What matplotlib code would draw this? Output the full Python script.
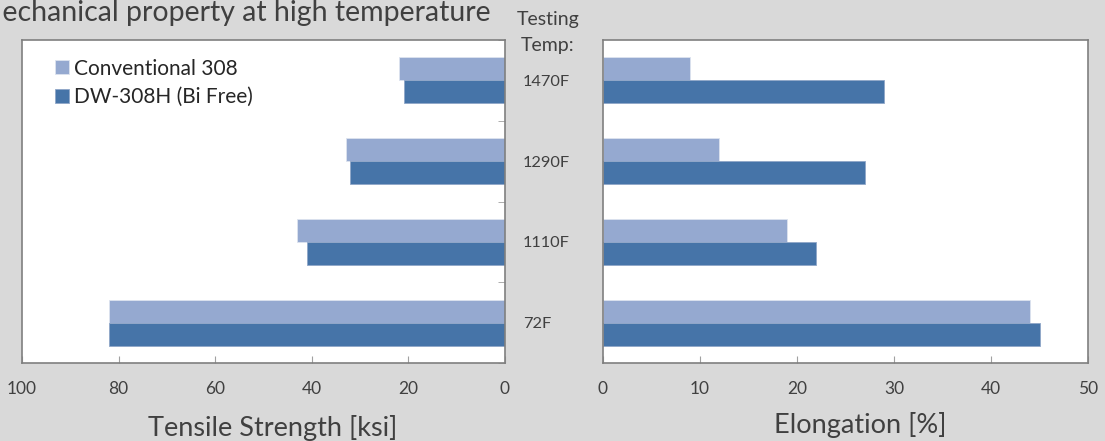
import numpy as np
import matplotlib.pyplot as plt

plt.rcParams['font.family'] = ['Lato', 'DejaVu Sans']

# data
temps = ['72F', '1110F', '1290F', '1470F']
series_names = ['Conventional 308', 'DW-308H (Bi Free)']
tensile_conv = [82, 43, 33, 22]
tensile_dw = [82, 41, 32, 21]
elong_conv = [44, 19, 12, 9]
elong_dw = [45, 22, 27, 29]

c_light = '#95a9d0'
c_dark = '#4674a8'
spine_c = '#7f7f7f'
txt_c = '#404040'

fig = plt.figure(figsize=(11.05, 4.41), dpi=100)
fig.patch.set_facecolor('#d9d9d9')

ax1 = fig.add_axes([22/1105, 1-363/441, 483/1105, 323/441])
ax2 = fig.add_axes([603/1105, 1-363/441, 485/1105, 323/441])

y = np.arange(len(temps))
h = 0.285
for ax, conv, dw in [(ax1, tensile_conv, tensile_dw), (ax2, elong_conv, elong_dw)]:
    ax.barh(y + h/2, conv, height=h, color=c_light, edgecolor='#dde3ef', linewidth=0.6, label=series_names[0])
    ax.barh(y - h/2, dw, height=h, color=c_dark, edgecolor='#8fa6c8', linewidth=0.6, label=series_names[1])
    ax.set_ylim(-0.5, len(temps) - 0.5)
    ax.set_facecolor('white')
    for s in ax.spines.values():
        s.set_color(spine_c)
        s.set_linewidth(1.2)
    ax.tick_params(axis='x', direction='in', length=5, color='#a0a0a0', labelsize=12.5,
                   labelcolor=txt_c, pad=13)
    ax.set_yticks(np.arange(len(temps) + 1) - 0.5, minor=True)

ax1.set_xlim(100, 0)
ax1.set_xticks([100, 80, 60, 40, 20, 0])
ax1.yaxis.tick_right()
ax1.set_yticks(y)
ax1.set_yticklabels(temps)
ax1.tick_params(axis='y', which='major', length=0, pad=13, labelsize=11.8, labelcolor=txt_c)
ax1.tick_params(axis='y', which='minor', direction='in', length=5, color='#a0a0a0')
ax1.set_xlabel('Tensile Strength [ksi]', fontsize=19.5, color=txt_c, labelpad=13)
ax1.xaxis.label.set_x(0.52)

ax2.set_xlim(0, 50)
ax2.set_xticks([0, 10, 20, 30, 40, 50])
ax2.set_yticks([])
ax2.set_yticks(np.arange(len(temps) + 1) - 0.5, minor=True)
ax2.tick_params(axis='y', which='minor', length=0)
ax2.set_xlabel('Elongation [%]', fontsize=19.5, color=txt_c, labelpad=11)
ax2.xaxis.label.set_x(0.53)

handles, labels = ax1.get_legend_handles_labels()
leg = ax1.legend(handles, labels, loc='upper left', frameon=False, fontsize=15,
                 handlelength=0.65, handleheight=0.65, handletextpad=0.25, labelspacing=0.4,
                 bbox_to_anchor=(0.03, 1.0))
for t in leg.get_texts():
    t.set_color('#262626')

fig.text(548/1105, 1-20/441, 'Testing', ha='center', va='center', fontsize=14, color=txt_c)
fig.text(548/1105, 1-46/441, 'Temp:', ha='center', va='center', fontsize=14, color=txt_c)
fig.text(-0.022, 1-13/441, 'Mechanical property at high temperature', ha='left', va='center',
         fontsize=20.5, color=txt_c)

fig.savefig('out.png', dpi=100, facecolor=fig.get_facecolor())
